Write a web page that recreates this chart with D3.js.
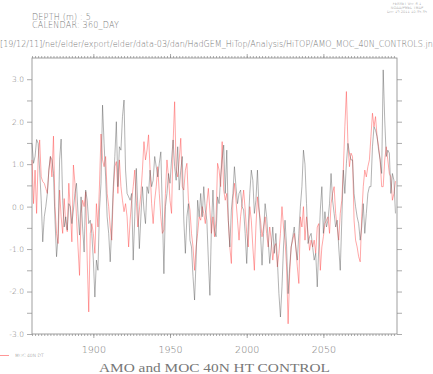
<!DOCTYPE html>
<meta charset="utf-8">
<style>
  body { margin: 0; background: #fff; }
  svg text { font-family: "DejaVu Sans", sans-serif; fill: #777; font-weight: 200; }
</style>
<svg width="433" height="374"></svg>
<script src="https://cdn.jsdelivr.net/npm/d3@7"></script>
<script>
// annual values, 1860 - 2097
var firstYear = 1860;
var amo = [
  1.49, 1.02, 1.18, 1.58, 1.49, 0.86, 0.15, -0.83, -0.24, 0,
  0.31, 0.86, 1.18, 1.1, 0.78, -0.32, -1.18, -0.71, 1.1, 1.59,
  0.15, -0.48, -0.24, -0.55, 0.07, 0, -0.4, -0.08, 0.31, 0.55,
  -0.16, -0.67, 0.23, -0.48, -1.07, 0.39, 0.15, -0.4, -0.32, -0.63,
  -1.26, -2.13, -1.26, -1.5, -0.08, 0.55, 2.39, 1.49, 0.7, -0.24,
  -0.63, -1.3, -0.48, 0.47, 1.18, 2.0, 0.47, 1.41, 1.33, 2.12,
  2.51, 0.86, 0.31, 0.23, 0.15, 0.31, -1.26, -0.24, 0.9, 0,
  -0.99, -0.24, 0.47, -0.08, -0.4, 0.47, 0.31, 0.86, 0.47, 0.62,
  1.18, 0.94, 0.7, 1.02, 1.29, -0.08, -1.58, 0, 0.31, 0.78,
  0.55, 1.1, 1.57, 0.94, 0.62, 1.41, 0.39, 0.86, 1.18, -0.32,
  -1.1, -0.24, 0.07, -0.79, -0.95, -1.65, -2.2, -1.26, 0.15, -0.24,
  0.31, -0.24, 0.47, -0.08, -0.32, -1.26, -2.09, -0.48, 0.39, -0.55,
  -0.71, 0.23, 0.07, 0.7, 1.1, 1.45, 0.31, 1.33, -0.32, -0.95,
  -0.08, 0.31, 0.94, 0.47, 0.07, 0.31, 0.39, 0, -0.08, -0.63,
  -1.34, -0.48, 0.31, 0.86, 0.62, -0.16, 0.15, 0.86, 0, -0.63,
  -1.38, -0.63, 0.07, -0.24, -0.79, -1.34, -0.95, -0.48, -1.1, -0.63,
  -1.26, -2.05, -2.6, -1.89, -0.95, -0.32, -0.95, -2.05, -1.42, -0.95,
  -0.71, -0.48, -0.95, -1.26, -0.63, 0, 0.47, 1.33, 1.0, 0.07,
  -0.87, -0.71, -0.63, -0.95, -1.26, -1.1, -1.89, -0.95, -0.08, 0.47,
  -0.63, -0.12, -0.48, -0.32, 0.07, 0.78, 0.15, -0.16, -0.48, -0.32,
  -0.95, -1.5, -0.32, 0.86, 0.31, 1.02, 1.49, 1.26, 1.1, 1.1,
  0.31, 0, -0.24, -0.4, -0.79, -0.48, 0.07, -0.63, -0.16, 0.31,
  0.47, 0.47, 1.41, 1.88, 1.8, 1.65, 1.33, 1.1, 0.78, 3.22,
  2.04, 1.18, 1.33, 1.26, 0.31, 0.78, 0.62, -0.16
];
var moc = [
  1.1, 0.07, 0.86, -0.16, 1.1, 1.57, 0.7, 0.59, 0.55, 0.43,
  0.31, 0.86, 1.18, 0.7, 1.66, 0, -0.63, -0.87, 0.39, -0.24,
  -0.63, 0.19, -0.4, -0.59, 0.55, -0.08, -0.83, 0.98, 0.55, -0.24,
  -0.95, -1.62, -0.16, 0.15, 0, 0.35, -1.26, -2.48, -0.63, -0.4,
  -0.63, -1.1, 0.07, -0.48, 0.51, 1.71, 1.1, 0.94, 1.18, 0.31,
  0, -0.48, -0.79, 0.31, 0.94, 1.06, 0.31, 1.1, 0.47, 0.15,
  -0.12, 0.07, -0.24, -0.95, -0.32, 0.15, 0.47, 0.86, 0.15, -0.48,
  -0.08, 0.31, 0.86, 1.53, 1.1, 1.33, 1.69, 0.86, 0.07, -0.4,
  0.15, 0.47, 0.94, 0.31, -0.24, -0.63, -0.55, 0.31, 1.1, 0.7,
  0.15, -0.16, 1.49, 2.47, 0.86, 0.7, 1.1, 1.61, 0.47, 0.39,
  0.86, 1.02, 0.15, -0.08, -0.63, -0.95, -1.5, -0.95, -0.63, -0.24,
  -0.32, 0, -0.16, -0.4, 0.07, 0.43, -0.08, -0.63, -0.24, -0.71,
  -0.32, 1.02, 0.86, 0.47, 1.53, 0.39, 0.15, 0.31, -0.32, -0.95,
  -1.34, 0.15, 0.55, 0.15, -0.32, -0.79, -0.24, 0.07, 0.39, -0.08,
  -0.63, -0.95, 0, -0.32, -0.95, -1.5, -0.48, 0.23, -0.08, -0.32,
  -0.71, -0.48, -0.24, -0.63, -0.95, -0.48, -0.79, -1.26, -0.95, -0.87,
  -1.42, -1.1, -0.63, 0, -0.48, -0.79, -1.42, -2.76, -1.58, -0.95,
  -0.79, -0.63, -0.95, -1.42, -1.81, -0.24, -0.48, 0, -0.79, -0.24,
  -0.63, -1.03, -0.79, -0.95, -0.79, -1.1, -0.48, -0.4, -1.5, -0.95,
  -0.71, -0.4, -0.32, -0.24, -0.63, 0.07, 0.31, 0.47, -0.16, -0.48,
  -0.79, -0.16, 0.15, 0.86, 1.88, 2.71, 1.49, 0.94, 1.26, 1.18,
  -0.32, -0.79, -0.95, -1.18, -1.3, -0.24, 0.47, 0.86, 0.7, 0.94,
  1.1, 1.65, 2.2, 1.88, 2.12, 1.65, 1.41, 1.1, 0.47, 0.47,
  1.1, 1.41, 1.1, 0.78, 0.7, 0.15, 0.31, 0.6
];
var yearLabels = [1900, 1950, 2000, 2050];
var valueTicks = [-3, -2.5, -2, -1.5, -1, -0.5, 0, 0.5, 1, 1.5, 2, 2.5, 3];
var headerLines = ["DEPTH (m) : 5", "CALENDAR: 360_DAY"];
var pathLabel = "[19/12/11]/net/elder/export/elder/data-03/dan/HadGEM_HiTop/Analysis/HiTOP/AMO_MOC_40N_CONTROLS.jnl";
var stampLines = ["FERRET Ver. 6.1", "NOAA/PMEL TMAP", "Dec 19 2011 10:35:35"];
var legendLabel = "MOC 40N DT";
var title = "AMO and MOC 40N HT CONTROL";

var svg = d3.select("svg");
var pLeft = 32, pRight = 397, pTop = 58, pBottom = 334;

var x = d3.scaleLinear().domain([1860, 2098]).range([pLeft, pRight]);
var y = d3.scaleLinear().domain([-3, 3.5]).range([pBottom, pTop]);

var minorYears = d3.range(1860, 2098, 2);

function tidy(g) {
  g.select(".domain").remove();
  g.selectAll("line").attr("stroke", "#888").attr("stroke-width", 0.7);
}

// bottom axis: minor then labelled major
svg.append("g").attr("transform", "translate(0," + pBottom + ")")
  .call(d3.axisBottom(x).tickValues(minorYears).tickSize(2).tickFormat(""))
  .call(tidy);
svg.append("g").attr("transform", "translate(0," + pBottom + ")")
  .call(d3.axisBottom(x).tickValues(yearLabels).tickSize(4).tickPadding(8).tickFormat(d3.format("d")))
  .call(tidy)
  .selectAll("text").style("font-size", "9.5px").attr("fill", "#777");

// top axis
svg.append("g").attr("transform", "translate(0," + pTop + ")")
  .call(d3.axisTop(x).tickValues(minorYears).tickSize(2).tickFormat(""))
  .call(tidy);
svg.append("g").attr("transform", "translate(0," + pTop + ")")
  .call(d3.axisTop(x).tickValues(yearLabels).tickSize(4).tickFormat(""))
  .call(tidy);

// left axis
svg.append("g").attr("transform", "translate(" + pLeft + ",0)")
  .call(d3.axisLeft(y).tickValues(valueTicks).tickSize(5).tickPadding(3)
    .tickFormat(function(d) { return d % 1 === 0 ? d3.format(".1f")(d).replace("\u2212", "-") : ""; }))
  .call(tidy)
  .selectAll("text").style("font-size", "7.5px").attr("fill", "#777");

// right axis
svg.append("g").attr("transform", "translate(" + pRight + ",0)")
  .call(d3.axisRight(y).tickValues(valueTicks).tickSize(5).tickFormat(""))
  .call(tidy);

// frame
svg.append("rect")
  .attr("x", pLeft).attr("y", pTop)
  .attr("width", pRight - pLeft).attr("height", pBottom - pTop)
  .attr("fill", "none").attr("stroke", "#888").attr("stroke-width", 0.8);

var line = d3.line()
  .x(function(d, i) { return x(firstYear + i); })
  .y(function(d) { return y(d); });

svg.append("path").datum(moc)
  .attr("d", line).attr("fill", "none")
  .attr("stroke", "#ff5050").attr("stroke-width", 0.5);
svg.append("path").datum(amo)
  .attr("d", line).attr("fill", "none")
  .attr("stroke", "#555").attr("stroke-width", 0.45);

// header text
svg.selectAll(".hdr").data(headerLines).enter().append("text")
  .attr("x", 32).attr("y", function(d, i) { return 19.5 + i * 8; })
  .style("font-size", "8px").style("letter-spacing", "0.2px").text(function(d) { return d; });

svg.append("text").attr("x", 0).attr("y", 46.5)
  .attr("textLength", 435).attr("lengthAdjust", "spacingAndGlyphs")
  .style("font-size", "8px").text(pathLabel);

svg.selectAll(".stamp").data(stampLines).enter().append("text")
  .attr("x", 407).attr("y", function(d, i) { return 5 + i * 3.8; })
  .attr("text-anchor", "middle")
  .style("font-size", "3.6px").text(function(d) { return d; });

// legend
svg.append("line").attr("x1", 0).attr("x2", 9).attr("y1", 355.5).attr("y2", 355.5)
  .attr("stroke", "#ff5050").attr("stroke-width", 0.6);
svg.append("text").attr("x", 15).attr("y", 357)
  .style("font-size", "4.5px").text(legendLabel);

// title
svg.append("text").attr("x", 99).attr("y", 371.5)
  .attr("textLength", 231).attr("lengthAdjust", "spacingAndGlyphs")
  .style("font-family", "'Liberation Serif', serif").style("font-size", "13.5px")
  .style("font-weight", "normal")
  .attr("fill", "#888").text(title);
</script>
